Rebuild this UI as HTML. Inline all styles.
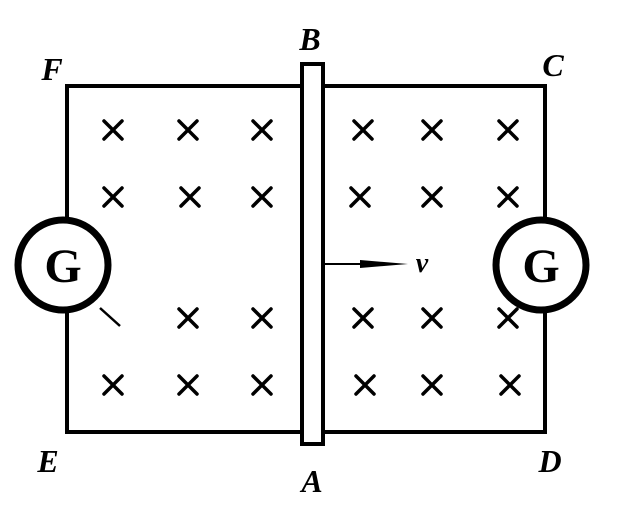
<!DOCTYPE html>
<html><head><style>body{margin:0;background:#fff}</style></head><body>
<svg width="620" height="517" viewBox="0 0 620 517" xmlns="http://www.w3.org/2000/svg">
<defs><path id="xx" d="M-9,-9L9,9M9,-9L-9,9" stroke="#000" stroke-width="3.5" stroke-linecap="round"/></defs>
<g stroke="#000" stroke-width="4" fill="none">
<polyline points="67,218 67,86 302,86"/>
<polyline points="323,86 545,86 545,218"/>
<polyline points="67,312 67,432 302,432"/>
<polyline points="323,432 545,432 545,312"/>
</g>
<rect x="302" y="64" width="21" height="380" fill="#fff" stroke="#000" stroke-width="4"/>
<circle cx="63" cy="265" r="45" fill="#fff" stroke="#000" stroke-width="7"/>
<circle cx="541" cy="265" r="45" fill="#fff" stroke="#000" stroke-width="7"/>
<line x1="100" y1="308" x2="120" y2="326" stroke="#000" stroke-width="2.5"/>
<g font-family="Liberation Serif, serif" font-weight="bold" font-size="48" text-anchor="middle">
<text x="63" y="282">G</text><text x="541" y="282">G</text>
</g>
<use href="#xx" x="113" y="130"/><use href="#xx" x="188" y="130"/><use href="#xx" x="262" y="130"/>
<use href="#xx" x="363" y="130"/><use href="#xx" x="432" y="130"/><use href="#xx" x="508" y="130"/>
<use href="#xx" x="113" y="197"/><use href="#xx" x="190" y="197"/><use href="#xx" x="262" y="197"/>
<use href="#xx" x="360" y="197"/><use href="#xx" x="432" y="197"/><use href="#xx" x="508" y="197"/>
<use href="#xx" x="188" y="318"/><use href="#xx" x="262" y="318"/>
<use href="#xx" x="363" y="318"/><use href="#xx" x="432" y="318"/><use href="#xx" x="508" y="318"/>
<use href="#xx" x="113" y="385"/><use href="#xx" x="188" y="385"/><use href="#xx" x="262" y="385"/>
<use href="#xx" x="365" y="385"/><use href="#xx" x="432" y="385"/><use href="#xx" x="510" y="385"/>
<line x1="323" y1="264" x2="380" y2="264" stroke="#000" stroke-width="2"/>
<polygon points="360,260 408,264 360,268" fill="#000"/>
<g font-family="Liberation Serif, serif" font-style="italic" font-weight="bold" font-size="32" text-anchor="middle">
<text x="52" y="80">F</text><text x="310" y="50">B</text><text x="553" y="76">C</text>
<text x="48" y="472">E</text><text x="312" y="492">A</text><text x="550" y="472">D</text>
<text x="422" y="272" font-size="28">v</text>
</g>
</svg>
</body></html>
